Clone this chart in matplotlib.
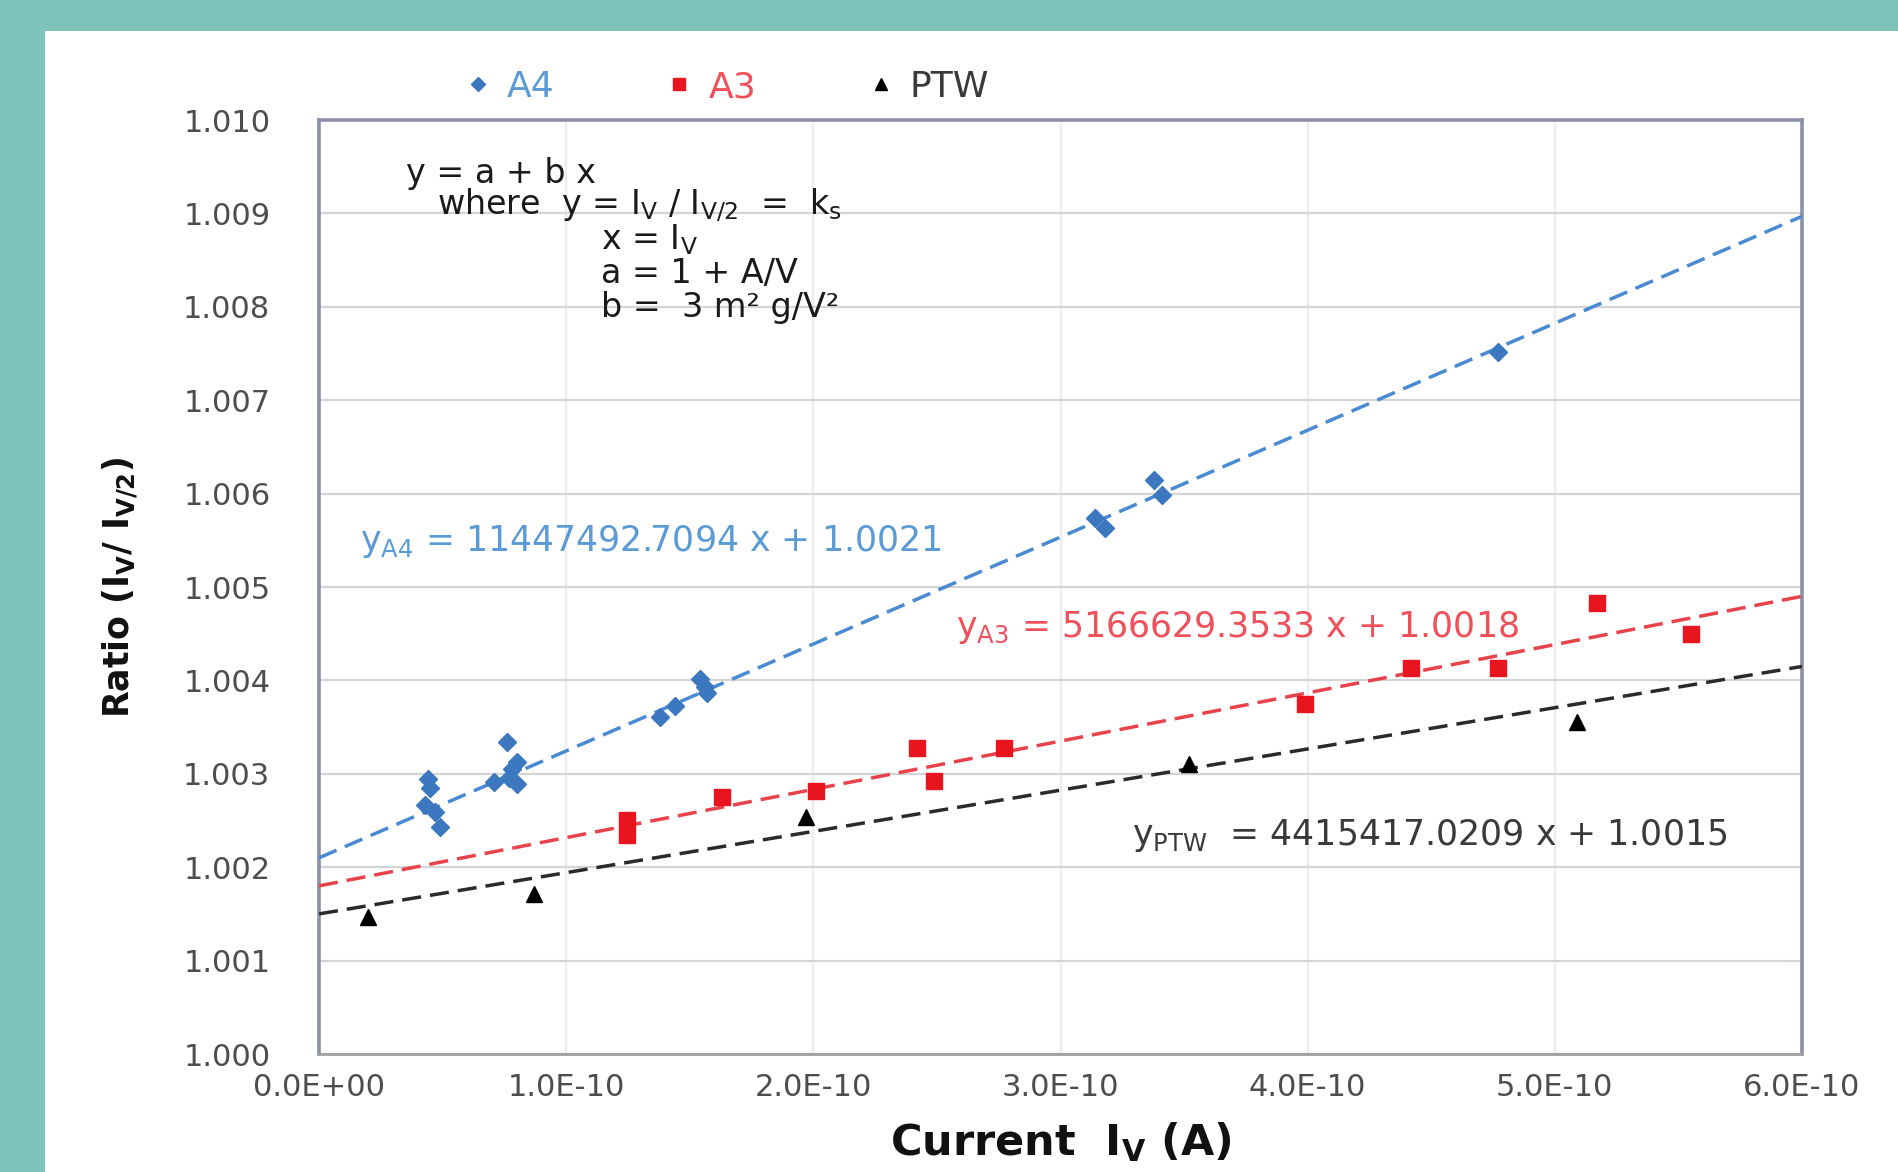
import numpy as np
import matplotlib
matplotlib.use("Agg")
import matplotlib.pyplot as plt
from matplotlib.patches import Rectangle
from matplotlib.lines import Line2D

plt.rcParams['font.family'] = ['DejaVu Sans']
plt.rcParams['mathtext.fontset'] = 'dejavusans'

# ---------------- data ----------------
series_names = ["A4", "A3", "PTW"]

a4_x = [0.44e-10, 0.45e-10, 0.43e-10, 0.47e-10, 0.49e-10,
        0.76e-10, 0.80e-10, 0.78e-10, 0.77e-10, 0.71e-10, 0.80e-10,
        1.38e-10, 1.44e-10, 1.54e-10, 1.56e-10, 1.57e-10,
        3.14e-10, 3.18e-10, 3.38e-10, 3.41e-10,
        4.77e-10]
a4_y = [1.00294, 1.00285, 1.00267, 1.00259, 1.00243,
        1.00334, 1.00313, 1.00305, 1.00296, 1.00291, 1.00289,
        1.00361, 1.00373, 1.00402, 1.00393, 1.00386,
        1.00574, 1.00563, 1.00615, 1.00599,
        1.00752]

a3_x = [1.245e-10, 1.245e-10, 1.63e-10, 2.01e-10, 2.42e-10, 2.49e-10,
        2.77e-10, 3.99e-10, 4.42e-10, 4.77e-10, 5.17e-10, 5.55e-10]
a3_y = [1.00251, 1.00235, 1.00275, 1.00282, 1.00328, 1.00292,
        1.00328, 1.00375, 1.00413, 1.00413, 1.00483, 1.00450]

ptw_x = [0.20e-10, 0.87e-10, 1.97e-10, 3.52e-10, 5.09e-10]
ptw_y = [1.00147, 1.00171, 1.00254, 1.00310, 1.00355]

fit_slopes = [11447492.7094, 5166629.3533, 4415417.0209]
fit_intercepts = [1.0021, 1.0018, 1.0015]
fit_labels = [r"y$_\mathregular{A4}$ = 11447492.7094 x + 1.0021",
              r"y$_\mathregular{A3}$ = 5166629.3533 x + 1.0018",
              r"y$_\mathregular{PTW}$  = 4415417.0209 x + 1.0015"]

x_ticks = [0, 1e-10, 2e-10, 3e-10, 4e-10, 5e-10, 6e-10]
y_ticks = [1.000, 1.001, 1.002, 1.003, 1.004, 1.005, 1.006, 1.007, 1.008, 1.009, 1.010]

# ---------------- styling ----------------
W, H = 1898, 1172
fig = plt.figure(figsize=(W / 100, H / 100), dpi=100)
fig.patch.set_facecolor('#7DC3BC')
fig.add_artist(Rectangle((45 / W, 0), 1, 1 - 31 / H, transform=fig.transFigure,
                         facecolor='white', edgecolor='none', zorder=-10))

L, R, T, B = 319, 1802, 120, 1054
ax = fig.add_axes([L / W, 1 - B / H, (R - L) / W, (B - T) / H])
ax.set_facecolor('white')

marker_colors = ['#3C78C0', '#E8141E', '#000000']
line_colors = ['#4A8AD2', '#E8424A', '#2A2A2A']
label_colors = ['#5B9BD5', '#F0505A', '#3A3A3A']
markers = ['D', 's', '^']
msizes = [9.5, 12, 11.5]

xs = [a4_x, a3_x, ptw_x]
ys = [a4_y, a3_y, ptw_y]

xline = np.array([x_ticks[0], x_ticks[-1]])
for i in range(3):
    ax.plot(xline, fit_intercepts[i] + fit_slopes[i] * xline,
            linestyle=(0, (5.5, 2.6)), color=line_colors[i], lw=2.5, zorder=3)
for i in range(3):
    ax.plot(xs[i], ys[i], linestyle='none', marker=markers[i], ms=msizes[i],
            color=marker_colors[i], mec=marker_colors[i], zorder=4)

ax.set_xlim(x_ticks[0], x_ticks[-1])
ax.set_ylim(y_ticks[0], y_ticks[-1])
ax.set_xticks(x_ticks)
ax.set_yticks(y_ticks)
ax.set_xticklabels(["{:.1E}".format(v) for v in x_ticks])
ax.set_yticklabels(["{:.3f}".format(v) for v in y_ticks])
ax.tick_params(axis='y', length=0, pad=35, labelsize=22, labelcolor='#4D4D4D')
ax.tick_params(axis='x', length=0, pad=14, labelsize=22, labelcolor='#4D4D4D')

ax.yaxis.grid(True, color='#D4D4D4', lw=1.6)
ax.xaxis.grid(True, color='#ECECEC', lw=1.6)
ax.set_axisbelow(True)

for s in ['left', 'top', 'right']:
    ax.spines[s].set_color('#8B90A8')
    ax.spines[s].set_linewidth(2.6)
ax.spines['bottom'].set_color('#A0A0A0')
ax.spines['bottom'].set_linewidth(2.0)

ax.set_ylabel(r"Ratio (I$_\mathregular{V}$/ I$_\mathregular{V/2}$)", fontsize=25,
              fontweight='bold', color='#111111')
ax.yaxis.set_label_coords((140 - L) / (R - L), 0.5)
ax.set_xlabel(r"Current  I$_\mathregular{V}$ (A)", fontsize=31,
              fontweight='bold', color='#111111')
ax.xaxis.set_label_coords(0.5, -(1120 - B) / (B - T))

def axpos(px, py):
    return (px - L) / (R - L), (B - py) / (B - T)

# equation block
eq_lines = [
    ("y = a + b x", 406, 173),
    (r"where  y = I$_\mathregular{V}$ / I$_\mathregular{V/2}$  =  k$_\mathregular{s}$", 437, 205),
    (r"x = I$_\mathregular{V}$", 601, 240),
    ("a = 1 + A/V", 601, 274),
    ("b =  3 m² g/V²", 601, 307),
]
for txt, px, py in eq_lines:
    ax.text(*axpos(px, py), txt, transform=ax.transAxes, fontsize=24,
            color='#1A1A1A', ha='left', va='center')

# fit labels
fit_pos = [(360, 542), (956, 627), (1132, 835)]
for i in range(3):
    ax.text(*axpos(*fit_pos[i]), fit_labels[i], transform=ax.transAxes,
            fontsize=25, color=label_colors[i], ha='left', va='center')

# legend
handles = [Line2D([], [], linestyle='none', marker=markers[i], ms=msizes[i] * 0.75,
                  color=marker_colors[i]) for i in range(3)]
fig.legend(handles, series_names, loc='center left',
           bbox_to_anchor=(462 / W, 1 - 87 / H), ncol=3, frameon=False,
           fontsize=26, borderpad=0, borderaxespad=0, handlelength=0.9,
           handletextpad=0.35, columnspacing=3.0, labelcolor=label_colors)

fig.savefig("out.png", dpi=100, facecolor=fig.get_facecolor())
